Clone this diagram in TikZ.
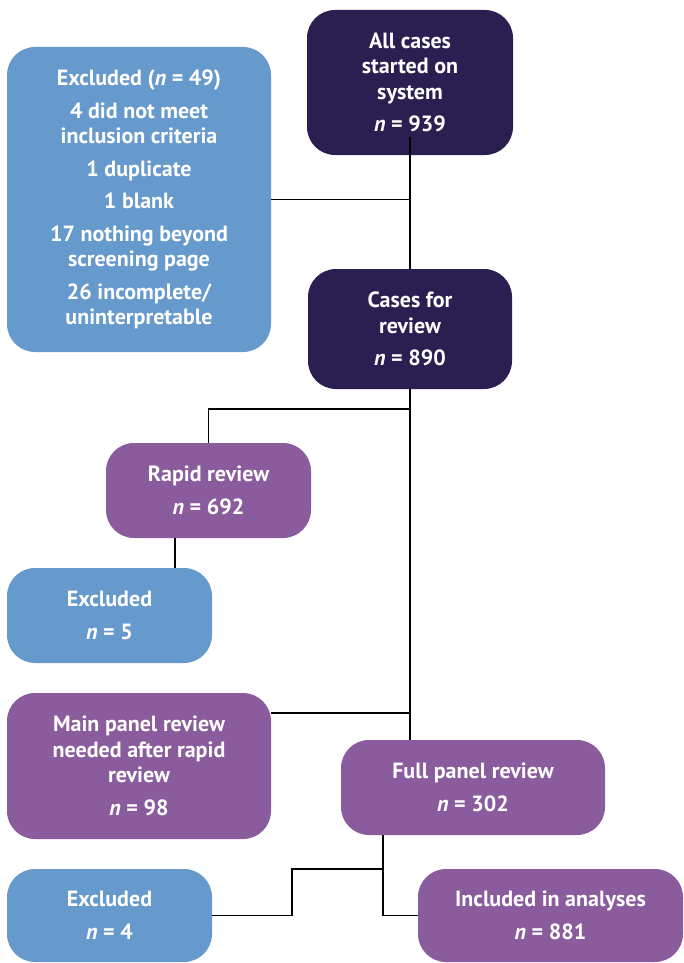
\documentclass[tikz,border=0pt]{standalone}
\usepackage{fontspec}
\setmainfont{PT Sans}
\usepackage{tikz}
\usetikzlibrary{positioning, calc}
\definecolor{Navy}{HTML}{2B1F52}
\definecolor{SkyBlue}{HTML}{6699CC}
\definecolor{Plum}{HTML}{8A5C9D}

\begin{document}
\begin{tikzpicture}[
    x=1pt, y=-1pt,
    box/.style={rectangle, rounded corners=28pt, align=center, text=white,
                font=\fontsize{22}{25.5}\selectfont\bfseries, inner sep=0pt},
    link/.style={draw=black, line width=1.2pt}
]
    \useasboundingbox (0,0) rectangle (684,963);

    % Start
    \node[box, fill=Navy, minimum width=206pt, minimum height=145pt] (all) at (410,82.5) {
        All cases\\started on\\system\\[7pt]
        \textit{n} = 939
    };

    % First exclusions
    \node[box, fill=SkyBlue, minimum width=264pt, minimum height=305pt] (excl49) at (139,199.5) {
        Excluded (\textit{n} = 49)\\[7pt]
        4 did not meet\\inclusion criteria\\[7pt]
        1 duplicate\\[7pt]
        1 blank\\[7pt]
        17 nothing beyond\\screening page\\[7pt]
        26 incomplete/\\uninterpretable
    };

    % For review
    \node[box, fill=Navy, minimum width=204pt, minimum height=120pt] (review) at (410,329) {
        Cases for\\review\\[7pt]
        \textit{n} = 890
    };

    % Rapid review
    \node[box, fill=Plum, minimum width=205pt, minimum height=95pt] (rapid) at (208.5,490.5) {
        Rapid review\\[7pt]
        \textit{n} = 692
    };

    \node[box, fill=SkyBlue, minimum width=205pt, minimum height=95pt] (excl5) at (109.5,615.5) {
        Excluded\\[7pt]
        \textit{n} = 5
    };

    % Panels
    \node[box, fill=Plum, minimum width=264pt, minimum height=146pt] (mainpanel) at (139,766) {
        Main panel review\\needed after rapid\\review\\[7pt]
        \textit{n} = 98
    };

    \node[box, fill=Plum, minimum width=264pt, minimum height=95pt] (fullpanel) at (473,787.5) {
        Full panel review\\[7pt]
        \textit{n} = 302
    };

    % Outcome
    \node[box, fill=SkyBlue, minimum width=205pt, minimum height=93pt] (excl4) at (109.5,915.5) {
        Excluded\\[7pt]
        \textit{n} = 4
    };

    \node[box, fill=Plum, minimum width=265pt, minimum height=93pt] (included) at (550.5,915.5) {
        Included in analyses\\[7pt]
        \textit{n} = 881
    };

    % Connectors
    \coordinate (split1) at (410,409);
    \coordinate (join2) at (410,713);
    \coordinate (rapidout) at (175,538);
    \coordinate (fullout) at (383,835);
    \coordinate (split3) at (383,869);
    \coordinate (turn) at (292,869);

    \draw[link] ([yshift=18pt]all.south) -- (review.north);
    \draw[link] (excl49.east) -- (excl49.east -| all.south);
    \draw[link] (review.south) -- (fullpanel.north -| review.south);
    \draw[link] (split1) -| (rapid.north);
    \draw[link] (rapidout) -- (rapidout |- excl5.north);
    \draw[link] (join2) -- (join2 -| mainpanel.east);
    \draw[link] (fullout) |- (included.west);
    \draw[link] (split3) -- (turn) |- (excl4.east);
\end{tikzpicture}
\end{document}
